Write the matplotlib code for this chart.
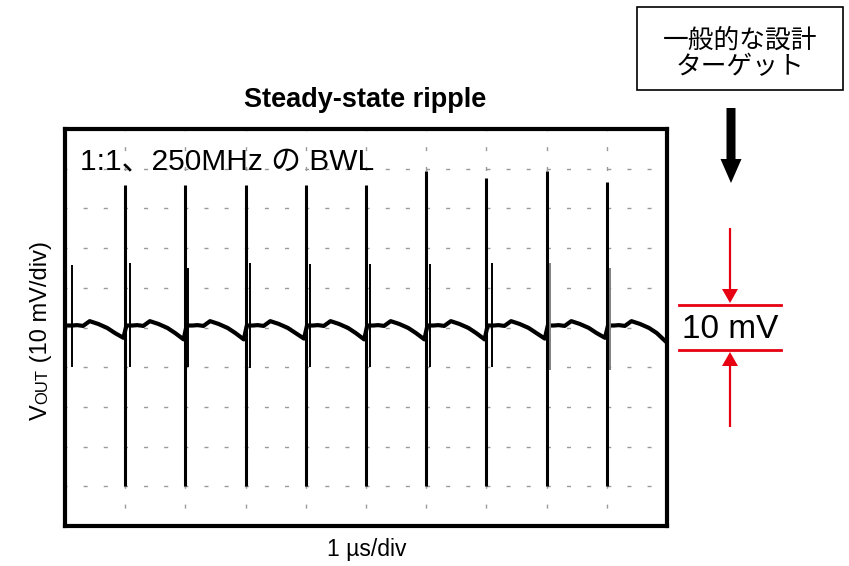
import matplotlib
matplotlib.use("Agg")
import matplotlib.pyplot as plt
from matplotlib.patches import Rectangle, FancyArrow

# --- data (units: divisions) ---
# main switching spikes
spike_t = [1, 2, 3, 4, 5, 6, 7, 8, 9]
spike_top = [3.59, 3.59, 3.59, 3.59, 3.60, 3.94, 3.77, 3.94, 3.66]
spike_bottom = [-4.0, -4.0, -4.0, -4.0, -4.0, -4.0, -4.0, -4.0, -4.0]

# ringing just after each spike
ring_t = [0.12, 1.08, 2.04, 3.07, 4.07, 5.07, 6.07, 7.09, 8.05, 9.05]
ring_top = [1.57, 1.62, 1.50, 1.62, 1.60, 1.60, 1.60, 1.62, 1.62, 1.50]
ring_bottom = [-1.0, -1.0, -1.0, -1.02, -1.0, -1.0, -1.0, -1.0, -1.07, -1.07]
ring_color = ['black'] * 8 + ['#808080', '#808080']

# ripple shape inside one period (offset from period start, level)
ripple_dt = [0.02, 0.12, 0.20, 0.30, 0.41, 0.55, 0.70, 0.83, 0.97]
ripple_v = [0.05, 0.05, 0.06, 0.04, 0.16, 0.09, -0.01, -0.14, -0.26]
period_start = [0, 1, 2, 3, 4, 5, 6, 7, 8, 9]
period_dip = [-0.26, -0.30, -0.30, -0.28, -0.30, -0.30, -0.30, -0.28, -0.26, -0.34]

red = '#e60012'
latin_cjk = ['Liberation Sans', 'Noto Sans CJK JP']

fig = plt.figure(figsize=(8.49, 5.66), dpi=100)

# scope screen
ax = fig.add_axes([65 / 849, 40 / 566, 602 / 849, 397 / 566])
ax.set_xlim(0, 10)
ax.set_ylim(-5, 5)
ax.set_xticks([])
ax.set_yticks([])
for s in ax.spines.values():
    s.set_linewidth(3)

for k in range(1, 10):
    ax.axvline(k, color='#9a9a9a', lw=1, linestyle=(1.44, (2.9, 11.4)), zorder=1)
    ax.axhline(k - 5, color='#9a9a9a', lw=1, linestyle=(1.44, (2.9, 11.6)), zorder=1)

# ripple trace
tx, ty = [], []
for p, dip in zip(period_start, period_dip):
    for dt, v in zip(ripple_dt, ripple_v[:-1] + [dip]):
        tx.append(p + dt)
        ty.append(v)
ax.plot(tx, ty, color='black', lw=3.0, solid_joinstyle='round', zorder=3)

ax.vlines(ring_t, ring_bottom, ring_top, colors=ring_color, lw=1.4, zorder=3)
ax.vlines(spike_t, spike_bottom, spike_top, colors='black', lw=2.2, zorder=4)

# overlay in pixel coordinates for labels and annotations
ov = fig.add_axes([0, 0, 1, 1], zorder=5)
ov.set_xlim(0, 849)
ov.set_ylim(566, 0)
ov.axis('off')
ov.patch.set_alpha(0)

ov.text(365, 107, 'Steady-state ripple', ha='center', va='baseline',
        fontsize=19.5, fontweight='bold', family='Liberation Sans')
ov.text(80, 170, '1:1、250MHz の BWL', ha='left', va='baseline',
        fontsize=21.5, family=latin_cjk)
ov.text(367, 556, '1 µs/div', ha='center', va='baseline',
        fontsize=16.5, family='Liberation Sans')

# rotated y label: V + small OUT + (10 mV/div)
fig.canvas.draw()
rend = fig.canvas.get_renderer()
y0 = 420
for txt, fs in [('V', 17), ('OUT', 12), (' (10 mV/div)', 17)]:
    t = ov.text(47, y0, txt, rotation=90, rotation_mode='anchor',
                ha='left', va='baseline', fontsize=fs, family='Liberation Sans')
    bb = t.get_window_extent(rend)
    y0 -= bb.height

# design target box and arrow
ov.add_patch(Rectangle((637, 7), 206, 83, fill=False, edgecolor='black', lw=1.2))
ov.text(740, 41, '一般的な設計', ha='center', va='center', fontsize=18.5,
        family='Noto Sans CJK JP')
ov.text(740, 67, 'ターゲット', ha='center', va='center', fontsize=18.5,
        family='Noto Sans CJK JP')
ov.add_patch(FancyArrow(731, 108, 0, 75, width=9, head_width=21, head_length=24,
                        length_includes_head=True, color='black', lw=0))

# 10 mV marker
ov.plot([679, 781], [305, 305], color=red, lw=2)
ov.plot([679, 781], [350, 350], color=red, lw=2)
ov.add_patch(FancyArrow(730, 228, 0, 75, width=2.2, head_width=16, head_length=14,
                        length_includes_head=True, color=red, lw=0))
ov.add_patch(FancyArrow(730, 427, 0, -75, width=2.2, head_width=16, head_length=14,
                        length_includes_head=True, color=red, lw=0))
ov.text(730, 338, '10 mV', ha='center', va='baseline', fontsize=24,
        family='Liberation Sans')

fig.savefig('out.png', dpi=100)
